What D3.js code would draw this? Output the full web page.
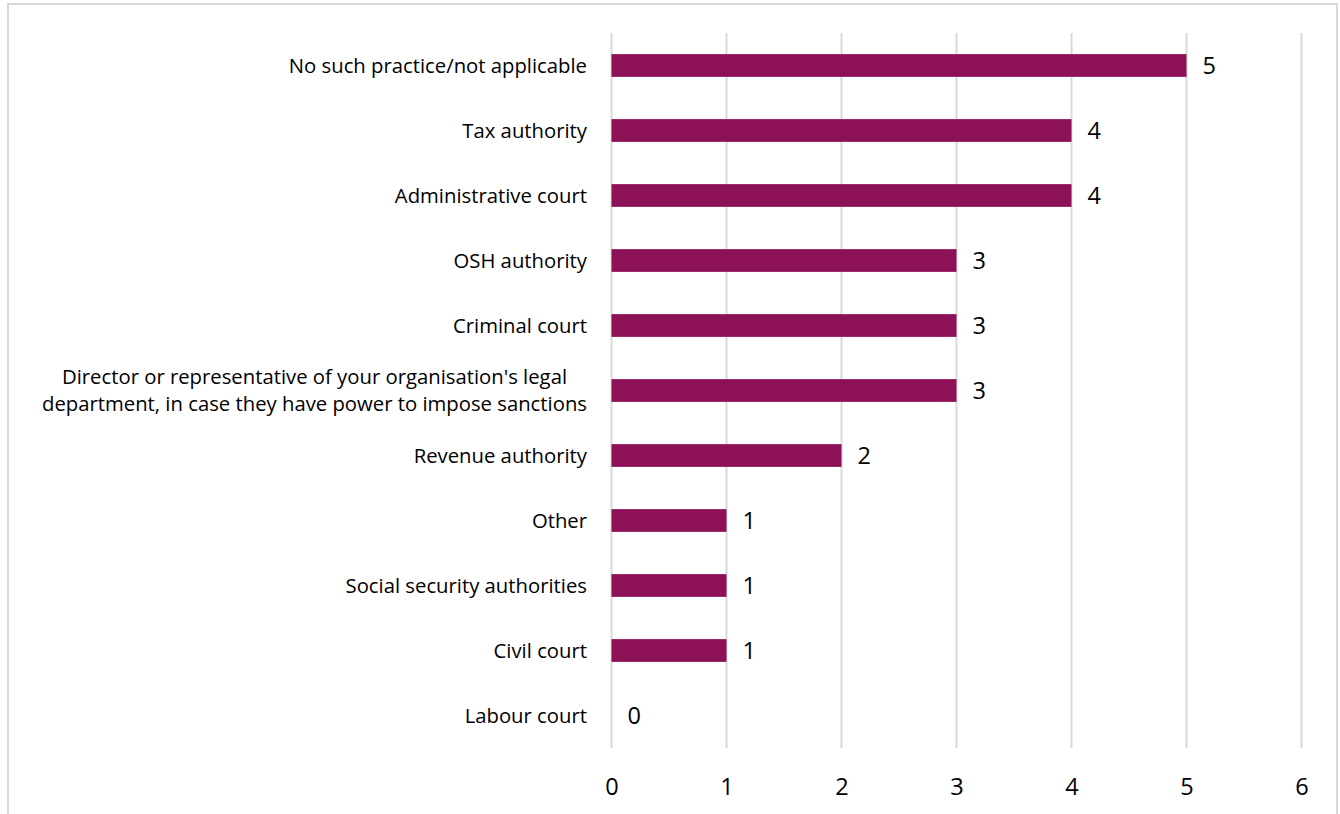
<!DOCTYPE html>
<html>
<head>
<meta charset="utf-8">
<script src="https://cdn.jsdelivr.net/npm/d3@7"></script>
<style>
  html, body { margin: 0; padding: 0; background: #fff; }
  svg text { font-family: "Open Sans", Lato, sans-serif; fill: #000; }
</style>
</head>
<body>
<svg id="chart" width="1340" height="814"></svg>
<script>
// Who imposes sanctions: number of responses per body
const categories = [
  "No such practice/not applicable",
  "Tax authority",
  "Administrative court",
  "OSH authority",
  "Criminal court",
  "Director or representative of your organisation's legal|department, in case they have power to impose sanctions",
  "Revenue authority",
  "Other",
  "Social security authorities",
  "Civil court",
  "Labour court"
];
const values = [5, 4, 4, 3, 3, 3, 2, 1, 1, 1, 0];
const xTicks = [0, 1, 2, 3, 4, 5, 6];

const svg = d3.select("#chart");

// outer frame
svg.append("rect")
  .attr("x", 8).attr("y", 4)
  .attr("width", 1329).attr("height", 830)
  .attr("fill", "none").attr("stroke", "#d9d9d9").attr("stroke-width", 2);

const x = d3.scaleLinear().domain([0, 6]).range([611.5, 1301.5]);
const y = d3.scaleBand().domain(categories).range([33, 748]).paddingInner(0.65).paddingOuter(0.325);

// vertical gridlines
svg.append("g").selectAll("line").data(xTicks).join("line")
  .attr("x1", d => x(d)).attr("x2", d => x(d))
  .attr("y1", 33).attr("y2", 748)
  .attr("stroke", "#d9d9d9").attr("stroke-width", 2);

// x axis labels
const xAxis = d3.axisBottom(x).tickValues(xTicks).tickSize(0).tickPadding(0).tickFormat(d3.format("d"));
const gx = svg.append("g").attr("transform", "translate(0,778)").call(xAxis);
gx.select(".domain").remove();
gx.selectAll("text").attr("font-size", 23.5).attr("font-family", "'Open Sans', sans-serif").attr("fill", "#000");

// bars
svg.append("g").selectAll("rect").data(values).join("rect")
  .attr("x", x(0))
  .attr("y", (d, i) => y(categories[i]))
  .attr("width", d => x(d) - x(0))
  .attr("height", y.bandwidth())
  .attr("fill", "#8c1156");

// value labels
svg.append("g").selectAll("text").data(values).join("text")
  .attr("x", d => x(d) + 16)
  .attr("y", (d, i) => y(categories[i]) + y.bandwidth() / 2)
  .attr("dy", "0.36em")
  .attr("font-size", 23.5)
  .text(d => d);

// category labels; multi-line labels are centred as a block that ends at the right edge
const labelRight = 587;
const labelG = svg.append("g");
categories.forEach(d => {
  const lines = d.split("|");
  const cy = y(d) + y.bandwidth() / 2;
  const lh = 27.5;
  const texts = lines.map((ln, k) => labelG.append("text")
    .attr("font-size", 20.3)
    .attr("y", cy + (k - (lines.length - 1) / 2) * lh)
    .attr("dy", "0.35em")
    .attr("text-anchor", "middle")
    .text(ln));
  const maxW = d3.max(texts, t => t.node().getComputedTextLength());
  texts.forEach(t => t.attr("x", labelRight - maxW / 2));
});
</script>
</body>
</html>
